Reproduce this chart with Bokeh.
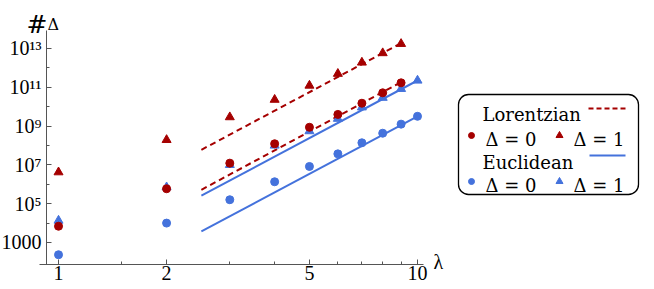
from bokeh.plotting import figure
from bokeh.models import FixedTicker, Range1d, Label, BoxAnnotation, LinearScale
from bokeh.embed import file_html
from bokeh.resources import INLINE
from bokeh.core.properties import value

# ---------------- data ----------------
lam_lor = [1, 2, 3, 4, 5, 6, 7, 8, 9]
lor_d0 = [6.9e3, 5.9e5, 1.23e7, 1.23e8, 8.7e8, 4.0e9, 1.51e10, 5.2e10, 1.7e11]
lor_d1 = [4.2e6, 1.95e8, 2.9e9, 2.3e10, 1.23e11, 5.0e11, 1.9e12, 5.8e12, 1.74e13]

lam_euc = [1, 2, 3, 4, 5, 6, 7, 8, 9, 10]
euc_d0 = [2.34e2, 1.0e4, 1.6e5, 1.35e6, 8.3e6, 3.7e7, 1.38e8, 4.3e8, 1.26e9, 3.2e9]
euc_d1 = [1.35e4, 7.1e5, 1.0e7, 1.0e8, 5.5e8, 2.4e9, 9.3e9, 2.9e10, 8.3e10, 2.24e11]

fit_lor_x = [2.5, 9]
fit_lor_d0 = [5.2e5, 1.82e11]
fit_lor_d1 = [6.0e7, 1.86e13]
fit_euc_x = [2.5, 10]
fit_euc_d0 = [3.7e3, 3.2e9]
fit_euc_d1 = [2.6e5, 2.24e11]

x_ticks = [1, 2, 5, 10]
x_tick_labels = ["1", "2", "5", "10"]
x_minor = [1.5, 3, 4, 6, 7, 8, 9]
y_ticks = [1e3, 1e5, 1e7, 1e9, 1e11, 1e13]
y_tick_labels = ["1000", "10⁵", "10⁷", "10⁹", "10¹¹", "10¹³"]
y_minor = [1e4, 1e6, 1e8, 1e10, 1e12]

# ---------------- style / layout ----------------
TICK_FONT = "Liberation Serif"
LEG_FONT = "DejaVu Serif"
RED = "#a50000"
BLUE = "#4472dc"
AXIS = "#555555"
W, H = 654, 289

x_start, x_end = 0.6892, 45.73
y_start, y_end = 10 ** 0.5773, 10 ** 15.474
y_axis_at = 0.926            # x position of the vertical axis
x_axis_at = 10 ** 1.866      # y position of the horizontal axis

p = figure(width=W, height=H, x_axis_type="log", y_axis_type="log",
           x_range=Range1d(x_start, x_end), y_range=Range1d(y_start, y_end),
           extra_x_ranges={"px": Range1d(0, W)}, extra_y_ranges={"py": Range1d(H, 0)},
           extra_x_scales={"px": LinearScale()}, extra_y_scales={"py": LinearScale()},
           output_backend="svg", toolbar_location=None, min_border=0)
p.outline_line_color = None
p.grid.visible = False
p.background_fill_color = "white"
p.border_fill_color = "white"

for ax in (p.xaxis[0], p.yaxis[0]):
    ax.axis_line_color = AXIS
    ax.major_tick_line_color = AXIS
    ax.minor_tick_line_color = AXIS
    ax.major_tick_in = 5
    ax.major_tick_out = 0
    ax.minor_tick_in = 3
    ax.minor_tick_out = 0
    ax.major_label_text_font = TICK_FONT
    ax.major_label_text_font_size = "20px"
    ax.major_label_text_color = "black"

p.xaxis.fixed_location = x_axis_at
p.xaxis.ticker = FixedTicker(ticks=x_ticks, minor_ticks=x_minor)
p.xaxis.major_label_overrides = dict(zip(x_ticks, x_tick_labels))
p.xaxis.bounds = (0.885, 10.39)
p.xaxis.major_label_standoff = 2

p.yaxis.fixed_location = y_axis_at
p.yaxis.ticker = FixedTicker(ticks=y_ticks, minor_ticks=y_minor)
p.yaxis.major_label_overrides = dict(zip(y_ticks, y_tick_labels))
p.yaxis.bounds = (x_axis_at, 10 ** 13.928)
p.yaxis.major_label_standoff = 5

# fit lines
p.line(fit_lor_x, fit_lor_d1, line_color=RED, line_width=2, line_dash="6 4")
p.line(fit_lor_x, fit_lor_d0, line_color=RED, line_width=2, line_dash="6 4")
p.line(fit_euc_x, fit_euc_d1, line_color=BLUE, line_width=2)
p.line(fit_euc_x, fit_euc_d0, line_color=BLUE, line_width=2)

# points
p.scatter(lam_euc, euc_d0, marker="circle", size=8, color=BLUE)
p.scatter(lam_euc, euc_d1, marker="triangle", size=9, color=BLUE)
p.scatter(lam_lor, lor_d0, marker="circle", size=8, color=RED)
p.scatter(lam_lor, lor_d1, marker="triangle", size=9, color=RED)

# axis titles (pixel overlay coordinates)
G = dict(x_range_name="px", y_range_name="py")
p.add_layout(Label(x=26, y=24, text="#", text_font=LEG_FONT, text_font_size="25px",
                   text_baseline="alphabetic", text_color="black", **G))
p.add_layout(Label(x=47, y=24, text="Δ", text_font=LEG_FONT, text_font_size="16px",
                   text_baseline="alphabetic", text_color="black", **G))
p.add_layout(Label(x=433, y=261, text="λ", text_font=TICK_FONT, text_font_size="20px",
                   text_baseline="middle", text_color="black", **G))

# ---------------- legend ----------------
box = BoxAnnotation(left=458, right=638, top=94, bottom=194, border_radius=10,
                    fill_color="white", fill_alpha=1, line_color="black", line_alpha=1,
                    line_width=1.3, level="underlay", **G)
p.add_layout(box)

TXT = dict(text_font=value(LEG_FONT), text_font_size="18px", text_baseline="alphabetic",
           text_align="left", text_color="black", **G)
p.text(x=[482], y=[114], text=["Lorentzian"], **TXT)
p.line([588, 625], [108, 108], line_color=RED, line_width=2, line_dash="5 3", **G)
p.scatter([471], [135], marker="circle", size=6, color=RED, **G)
p.text(x=[485], y=[139], text=["Δ = 0"], **TXT)
p.scatter([559], [135], marker="triangle", size=7, color=RED, **G)
p.text(x=[573], y=[139], text=["Δ = 1"], **TXT)

p.text(x=[482], y=[162], text=["Euclidean"], **TXT)
p.line([589, 625], [155, 155], line_color=BLUE, line_width=2, **G)
p.scatter([471], [181], marker="circle", size=6, color=BLUE, **G)
p.text(x=[485], y=[185], text=["Δ = 0"], **TXT)
p.scatter([559], [181], marker="triangle", size=7, color=BLUE, **G)
p.text(x=[573], y=[185], text=["Δ = 1"], **TXT)

open("out.html", "w").write(file_html(p, INLINE))
